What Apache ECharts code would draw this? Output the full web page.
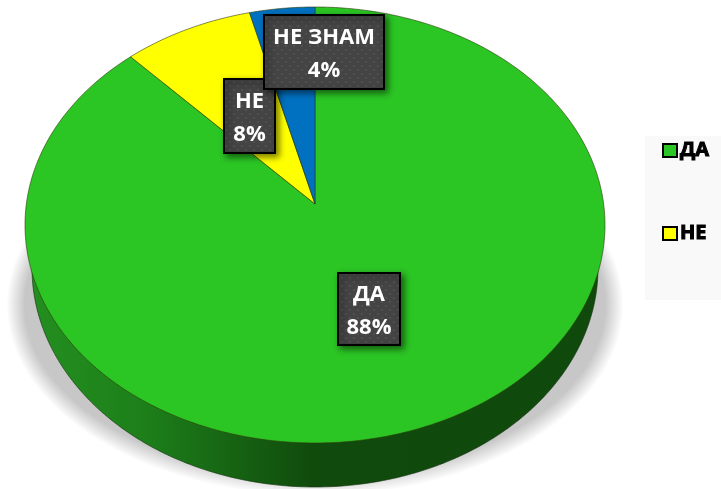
<!DOCTYPE html>
<html>
<head>
<meta charset="utf-8">
<style>html,body{margin:0;padding:0;background:#fff}#c{width:721px;height:489px}</style>
<script src="https://cdn.jsdelivr.net/npm/echarts@6/dist/echarts.min.js"></script>
</head>
<body>
<div id="c"></div>
<script>
const categories = ['ДА', 'НЕ', 'НЕ ЗНАМ'];
const values = [88, 8, 4];
const legendItems = ['ДА', 'НЕ'];
const colors = ['#2bc524', '#ffff00', '#0070c0'];

// Slices run counter-clockwise from 12 o'clock in this order.
const drawOrder = [2, 1, 0];
const FONT = '"Open Sans", "Noto Sans", sans-serif';

// Tilted-disc geometry
const disc = { cx: 315, cy: 225, rx: 290, ry: 218, apexY: 204, tilt: 0.75 };
const rim = { cx: 315, cy: 268, rx: 283, ry: 219 };
const shade = { cx: 315, cy: 305, rxInner: 291, rxOuter: 308, ryInner: 172, ryOuter: 190, fromY: 238, layers: 14 };
const boxes = [
  { x: 338, y: 273, w: 62, h: 72 },
  { x: 224, y: 79, w: 51, h: 74 },
  { x: 264, y: 15, w: 120, h: 74 }
];

const total = values.reduce((a, b) => a + b, 0);

function rimPoint(theta) {
  const dx = -Math.sin(theta), dy = -Math.cos(theta) * disc.tilt;
  const oy = disc.apexY - disc.cy;
  const A = dx * dx / (disc.rx * disc.rx) + dy * dy / (disc.ry * disc.ry);
  const B = 2 * (oy * dy / (disc.ry * disc.ry));
  const C = oy * oy / (disc.ry * disc.ry) - 1;
  const t = (-B + Math.sqrt(B * B - 4 * A * C)) / (2 * A);
  return [disc.cx + t * dx, disc.apexY + t * dy];
}

function sliceStart(catIndex) {
  let sum = 0;
  for (const i of drawOrder) {
    if (i === catIndex) break;
    sum += values[i];
  }
  return sum;
}

function sliceRender(catIndex) {
  return function (params, api) {
    const v = api.value(0);
    const a0 = sliceStart(catIndex) / total * Math.PI * 2;
    const a1 = a0 + v / total * Math.PI * 2;
    const n = Math.max(4, Math.ceil(v * 4));
    const pts = [[disc.cx, disc.apexY]];
    for (let i = 0; i <= n; i++) pts.push(rimPoint(a0 + (a1 - a0) * i / n));
    return {
      type: 'polygon',
      shape: { points: pts },
      style: { fill: colors[catIndex], stroke: 'rgba(45,60,10,0.75)', lineWidth: 0.8 }
    };
  };
}

function ellipsePts(e, from, to, n) {
  const pts = [];
  for (let i = 0; i <= n; i++) {
    const a = from + (to - from) * i / n;
    pts.push([e.cx + e.rx * Math.cos(a), e.cy + e.ry * Math.sin(a)]);
  }
  return pts;
}

function baseRender() {
  const children = [];
  for (let k = 0; k < shade.layers; k++) {
    const f = k / (shade.layers - 1);
    const e = {
      cx: shade.cx, cy: shade.cy,
      rx: shade.rxOuter + (shade.rxInner - shade.rxOuter) * f,
      ry: shade.ryOuter + (shade.ryInner - shade.ryOuter) * f
    };
    const sa = Math.asin((shade.fromY - e.cy) / e.ry);
    children.push({
      type: 'polygon',
      shape: { points: ellipsePts(e, sa, Math.PI - sa, 120) },
      style: { fill: 'rgba(0,0,0,0.017)' }
    });
  }
  children.push({
    type: 'polygon',
    shape: { points: ellipsePts(rim, 0, Math.PI * 2, 360) },
    style: {
      fill: {
        type: 'linear', x: 0, y: 0, x2: 1, y2: 0,
        colorStops: [
          { offset: 0, color: '#238f1f' },
          { offset: 0.2, color: '#1d7f1a' },
          { offset: 0.5, color: '#104a0c' },
          { offset: 1, color: '#0f4a0c' }
        ]
      },
      stroke: 'rgba(20,50,15,0.8)', lineWidth: 0.8
    }
  });
  return { type: 'group', children };
}

const tile = document.createElement('canvas');
tile.width = tile.height = 8;
(function () {
  const g = tile.getContext('2d');
  g.fillStyle = '#444444';
  g.fillRect(0, 0, 8, 8);
  g.fillStyle = '#505050';
  g.fillRect(1, 1, 2, 2);
  g.fillRect(5, 5, 2, 2);
})();

function labelRender(params, api) {
  const i = params.dataIndex;
  const b = boxes[i];
  return {
    type: 'group',
    children: [
      {
        type: 'rect',
        z2: i * 2,
        shape: { x: b.x, y: b.y, width: b.w, height: b.h },
        style: {
          fill: { image: tile, repeat: 'repeat' },
          stroke: '#000', lineWidth: 2,
          shadowBlur: 6, shadowOffsetX: 3, shadowOffsetY: 3, shadowColor: 'rgba(0,0,0,0.5)'
        }
      },
      {
        type: 'text',
        z2: i * 2 + 1,
        style: {
          x: b.x + b.w / 2, y: b.y + b.h / 2 + 2,
          text: categories[i] + '\n' + api.value(0) + '%',
          align: 'center', verticalAlign: 'middle',
          fill: '#fff', font: 'bold 22px ' + FONT, lineHeight: 33
        }
      }
    ]
  };
}

const chart = echarts.init(document.getElementById('c'), null, { renderer: 'canvas' });
const sliceSeries = categories.map((name, i) => ({
  type: 'custom', name, coordinateSystem: 'none', silent: true, z: 3,
  itemStyle: { color: colors[i] },
  data: [[values[i]]],
  renderItem: sliceRender(i)
}));

chart.setOption({
  animation: false,
  backgroundColor: '#fff',
  graphic: [{
    type: 'rect', silent: true, z: -1,
    shape: { x: 645, y: 136, width: 76, height: 164 },
    style: { fill: '#f9f9f9' }
  }],
  legend: {
    data: legendItems, orient: 'vertical', left: 662, top: 140,
    itemWidth: 14, itemHeight: 13, itemGap: 62, icon: 'rect', selectedMode: false,
    padding: 0,
    itemStyle: { borderColor: '#000', borderWidth: 2 },
    textStyle: {
      color: '#000', fontFamily: FONT, fontWeight: 'bold', fontSize: 20,
      textBorderColor: '#000', textBorderWidth: 1, padding: [0, 0, 0, -2]
    }
  },
  series: [
    { type: 'custom', name: 'основа', coordinateSystem: 'none', silent: true, z: 1, data: [[0]], renderItem: baseRender }
  ].concat(sliceSeries, [
    { type: 'custom', name: 'етикети', coordinateSystem: 'none', silent: true, z: 5,
      data: values.map(v => [v]), renderItem: labelRender }
  ])
});
</script>
</body>
</html>
